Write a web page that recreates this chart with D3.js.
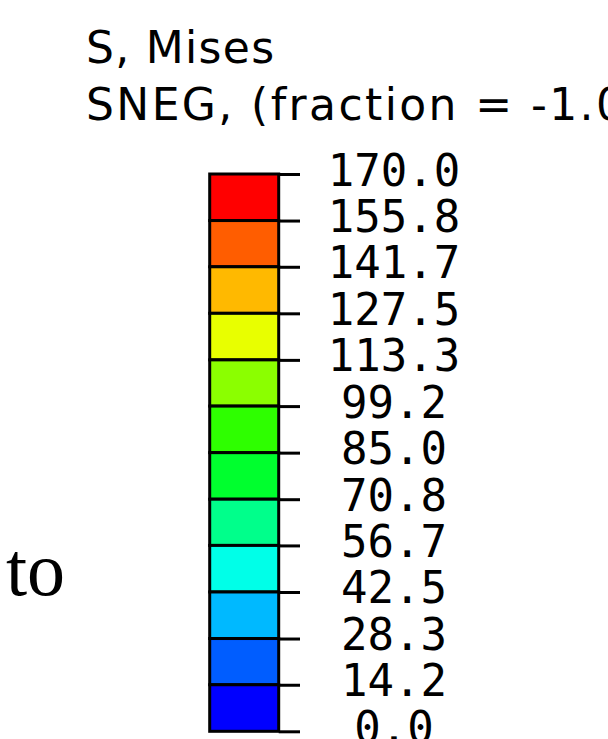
<!DOCTYPE html>
<html>
<head>
<meta charset="utf-8">
<script src="https://cdn.jsdelivr.net/npm/d3@7"></script>
<style>
  html, body { margin: 0; padding: 0; background: #fff; overflow: hidden; }
</style>
</head>
<body>
<div id="chart"></div>
<script>
// Legend values, top to bottom
const tickLabels = ["170.0", "155.8", "141.7", "127.5", "113.3", "99.2", "85.0",
                    "70.8", "56.7", "42.5", "28.3", "14.2", "0.0"];
// One colour per band, top to bottom
const bandColors = ["#FF0000", "#FF5D00", "#FFB900", "#E8FF00", "#8BFF00", "#2EFF00",
                    "#00FF2E", "#00FF8B", "#00FFE8", "#00B9FF", "#005DFF", "#0000FF"];
const titleLines = ["S, Mises", "SNEG, (fraction = -1.0)"];
const sideText = "to";

const width = 608, height = 739;
const barLeft = 209.7, barRight = 278.7, tickLen = 21.3, labelX = 394;

const svg = d3.select("#chart")
  .append("svg")
    .attr("width", width)
    .attr("height", height);

const tickValues = tickLabels.map(Number);

// Vertical scale for the stress values
const y = d3.scaleLinear()
    .domain([0, 170])
    .range([731.3, 174]);

// Title lines (second one runs off the right edge, as in the original)
svg.selectAll(".title")
  .data(titleLines)
  .join("text")
    .attr("class", "title")
    .attr("x", 86)
    .attr("y", (d, i) => 63 + i * 57)
    .style("font-family", "'DejaVu Sans', sans-serif")
    .style("font-size", "44px")
    .style("letter-spacing", (d, i) => i === 0 ? "1.3px" : "2.4px")
    .attr("fill", "#000")
    .text(d => d);

// Colour bands
const bands = bandColors.map((c, i) => ({ hi: tickValues[i], lo: tickValues[i + 1], color: c }));

svg.selectAll(".band")
  .data(bands)
  .join("rect")
    .attr("class", "band")
    .attr("x", barLeft)
    .attr("y", d => y(d.hi))
    .attr("width", barRight - barLeft)
    .attr("height", d => y(d.lo) - y(d.hi))
    .attr("fill", d => d.color)
    .attr("stroke", "#000")
    .attr("stroke-width", 3);

// Ticks and labels
const axis = svg.append("g")
    .attr("transform", `translate(${barRight},0)`)
    .call(d3.axisRight(y)
      .tickValues(tickValues)
      .tickFormat((d, i) => tickLabels[i])
      .tickSize(tickLen)
      .tickSizeOuter(0));

axis.select(".domain").remove();
axis.selectAll(".tick line")
    .attr("stroke", "#000")
    .attr("stroke-width", 3);
axis.selectAll(".tick text")
    .attr("x", labelX - barRight)
    .attr("dy", null)
    .attr("y", 11)
    .attr("text-anchor", "middle")
    .attr("fill", "#000")
    .style("font-family", "'DejaVu Sans Mono', monospace")
    .style("font-size", "44px");

// Stray text on the left
svg.append("text")
    .attr("x", 6)
    .attr("y", 595)
    .style("font-family", "'Liberation Serif', 'Times New Roman', serif")
    .style("font-size", "76px")
    .attr("fill", "#000")
    .text(sideText);
</script>
</body>
</html>
